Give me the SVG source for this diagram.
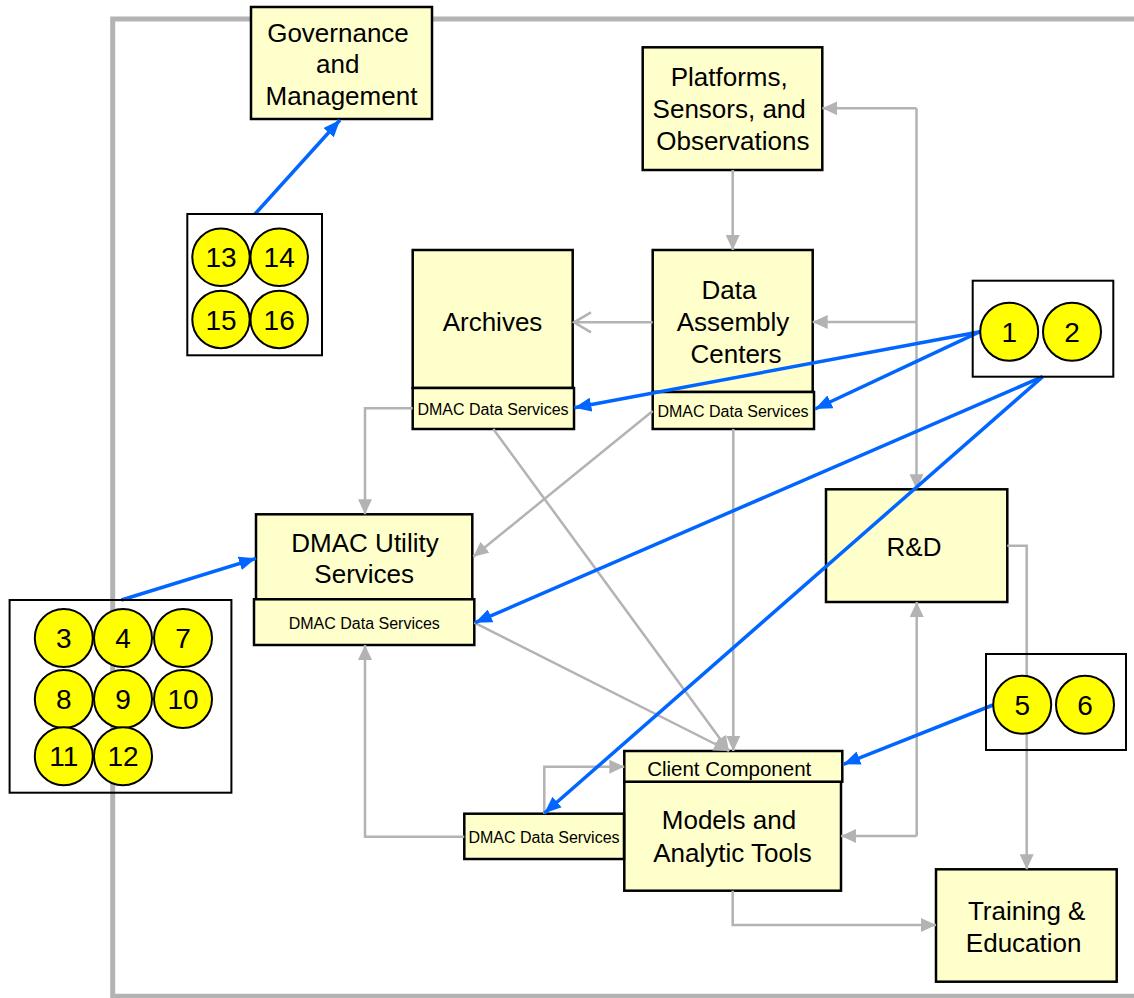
<svg xmlns="http://www.w3.org/2000/svg" width="1134" height="998" viewBox="0 0 1134 998">
  <defs>
    <style>
      .box { fill: #FFFFCC; stroke: #000; stroke-width: 2.5; }
      .grp { fill: none; stroke: #000; stroke-width: 2; }
      .dot { fill: #FFFF00; stroke: #000; stroke-width: 2; }
      .lbl { font-family: "Liberation Sans", Arial, sans-serif; font-size: 26px; fill: #000; text-anchor: middle; }
      .sm { font-family: "Liberation Sans", Arial, sans-serif; font-size: 16px; fill: #000; text-anchor: middle; }
      .cc { font-family: "Liberation Sans", Arial, sans-serif; font-size: 20.5px; fill: #000; text-anchor: middle; }
      .num { font-family: "Liberation Sans", Arial, sans-serif; font-size: 28px; fill: #000; text-anchor: middle; }
      .frame { fill: none; stroke: #B3B3B3; stroke-width: 5; }
      .flow { fill: none; stroke: #B3B3B3; stroke-width: 2.5; marker-end: url(#grayHead); }
      .open { fill: none; stroke: #B3B3B3; stroke-width: 2.5; marker-end: url(#openHead); }
      .link { fill: none; stroke: #0066FF; stroke-width: 3.5; marker-end: url(#blueHead); }
    </style>
    <marker id="grayHead" markerUnits="userSpaceOnUse" viewBox="0 0 15 14" markerWidth="15" markerHeight="14" refX="15" refY="7" orient="auto">
      <path d="M0,0 L15,7 L0,14 z" fill="#B3B3B3"/>
    </marker>
    <marker id="openHead" markerUnits="userSpaceOnUse" viewBox="-19 -12 21 24" markerWidth="21" markerHeight="24" refX="0" refY="0" orient="auto">
      <path d="M-17,-10 L0,0 L-17,10" fill="none" stroke="#B3B3B3" stroke-width="2.5"/>
    </marker>
    <marker id="blueHead" markerUnits="userSpaceOnUse" viewBox="0 0 17 14" markerWidth="17" markerHeight="14" refX="17" refY="7" orient="auto">
      <path d="M0,0 L17,7 L0,14 z" fill="#0066FF"/>
    </marker>
  </defs>

  <!-- enclosing frame -->
  <path class="frame" d="M1134,19 H112.7 V996.3 H1134"/>

  <!-- component boxes -->
  <g id="governance">
    <rect class="box" x="251" y="7" width="181" height="112"/>
    <text class="lbl" x="338" y="41.7">Governance</text>
    <text class="lbl" x="337.7" y="72.7">and</text>
    <text class="lbl" x="341.5" y="105">Management</text>
  </g>
  <g id="platforms">
    <rect class="box" x="642.7" y="47.3" width="179.6" height="122.7"/>
    <text class="lbl" x="729.2" y="86">Platforms,</text>
    <text class="lbl" x="729.2" y="118.3">Sensors, and</text>
    <text class="lbl" x="732.8" y="150">Observations</text>
  </g>
  <g id="archives">
    <rect class="box" x="412.7" y="250" width="160" height="138"/>
    <text class="lbl" x="492.5" y="331">Archives</text>
    <rect class="box" x="412.7" y="388" width="161.3" height="41"/>
    <text class="sm" x="493" y="415">DMAC Data Services</text>
  </g>
  <g id="data-assembly-centers">
    <rect class="box" x="652.7" y="250" width="160" height="142"/>
    <text class="lbl" x="729" y="299.3">Data</text>
    <text class="lbl" x="733" y="331">Assembly</text>
    <text class="lbl" x="736" y="362.7">Centers</text>
    <rect class="box" x="652.7" y="392" width="161.3" height="37"/>
    <text class="sm" x="733" y="416.7">DMAC Data Services</text>
  </g>
  <g id="utility-services">
    <rect class="box" x="256" y="514.3" width="216.3" height="85"/>
    <text class="lbl" x="365" y="552.3">DMAC Utility</text>
    <text class="lbl" x="364.2" y="583.3">Services</text>
    <rect class="box" x="254" y="599.3" width="220.3" height="45.7"/>
    <text class="sm" x="364.3" y="629">DMAC Data Services</text>
  </g>
  <g id="rnd">
    <rect class="box" x="826" y="489.3" width="181.3" height="112.7"/>
    <text class="lbl" x="914" y="556">R&amp;D</text>
  </g>
  <g id="models">
    <rect class="box" x="624.3" y="781.7" width="216.7" height="109"/>
    <text class="lbl" x="729" y="829.3">Models and</text>
    <text class="lbl" x="732.5" y="861.7">Analytic Tools</text>
    <rect class="box" x="624.3" y="751" width="218" height="30.7"/>
    <text class="cc" x="729.2" y="776">Client Component</text>
    <rect class="box" x="464.3" y="813.7" width="159.7" height="45.3"/>
    <text class="sm" x="544" y="842.7">DMAC Data Services</text>
  </g>
  <g id="training">
    <rect class="box" x="936" y="869.3" width="180.7" height="112.4"/>
    <text class="lbl" x="1026.7" y="920">Training &amp;</text>
    <text class="lbl" x="1023.7" y="951.7">Education</text>
  </g>

  <!-- connectors -->
  <g id="connectors">
    <path class="flow" d="M732.7,170 V250"/>
    <path class="flow" d="M916.5,108.3 V489.3"/>
    <path class="flow" d="M916.5,108.3 H822.3"/>
    <path class="flow" d="M916.5,322 H812.7"/>
    <path class="open" d="M652.7,322.3 H574"/>
    <path class="flow" d="M412.7,408.3 H365 V514.3"/>
    <path class="flow" d="M652.7,411 L473.3,556.7"/>
    <path class="flow" d="M493.3,429 L729,751"/>
    <path class="flow" d="M733.3,429 V751"/>
    <path class="flow" d="M474.3,622.7 L729,751"/>
    <path class="flow" d="M464.3,836.7 H365 V645"/>
    <path class="flow" d="M544.3,813.7 V766.7 H624.3"/>
    <path class="flow" d="M916.7,836 V602"/>
    <path class="flow" d="M916.7,836 H841"/>
    <path class="flow" d="M1007.3,545.7 H1026.7 V869.3"/>
    <path class="flow" d="M732.7,890.7 V925 H936"/>

    <path class="link" d="M255,214 L340,120"/>
    <path class="link" d="M121.4,600 L256,558.3"/>
    <path class="link" d="M980,331.7 L574.3,407.7"/>
    <path class="link" d="M980,331.7 L815,409"/>
    <path class="link" d="M1042.7,376.7 L475,622.7"/>
    <path class="link" d="M1042.7,376.7 L544.3,813.3"/>
    <path class="link" d="M993,705 L843.3,764.3"/>
  </g>

  <!-- numbered groupings -->
  <g id="group-13-16">
    <rect class="grp" x="187.3" y="214" width="134.7" height="141.3"/>
    <circle class="dot" cx="221" cy="257.3" r="28.7"/>
    <circle class="dot" cx="279.2" cy="257.3" r="28.7"/>
    <circle class="dot" cx="221" cy="319.5" r="28.7"/>
    <circle class="dot" cx="279.2" cy="319.5" r="28.7"/>
    <text class="num" x="221" y="267.3">13</text>
    <text class="num" x="279.2" y="267.3">14</text>
    <text class="num" x="221" y="329.5">15</text>
    <text class="num" x="279.2" y="329.5">16</text>
  </g>
  <g id="group-1-2">
    <rect class="grp" x="972.7" y="280.7" width="140.6" height="96"/>
    <circle class="dot" cx="1009.2" cy="331.7" r="29"/>
    <circle class="dot" cx="1072" cy="331.7" r="29"/>
    <text class="num" x="1009.2" y="341.7">1</text>
    <text class="num" x="1072" y="341.7">2</text>
  </g>
  <g id="group-3-12">
    <rect class="grp" x="9.6" y="600" width="221.8" height="192.7"/>
    <circle class="dot" cx="63.8" cy="638" r="29"/>
    <circle class="dot" cx="123" cy="638" r="29"/>
    <circle class="dot" cx="183" cy="638" r="29"/>
    <circle class="dot" cx="63.8" cy="699" r="29"/>
    <circle class="dot" cx="123" cy="699" r="29"/>
    <circle class="dot" cx="183" cy="699" r="29"/>
    <circle class="dot" cx="63.8" cy="756.3" r="29"/>
    <circle class="dot" cx="123" cy="756.3" r="29"/>
    <text class="num" x="63.8" y="648">3</text>
    <text class="num" x="123" y="648">4</text>
    <text class="num" x="183" y="648">7</text>
    <text class="num" x="63.8" y="709">8</text>
    <text class="num" x="123" y="709">9</text>
    <text class="num" x="183" y="709">10</text>
    <text class="num" x="63.8" y="766.3">11</text>
    <text class="num" x="123" y="766.3">12</text>
  </g>
  <g id="group-5-6">
    <rect class="grp" x="986" y="654" width="140" height="96"/>
    <circle class="dot" cx="1022.2" cy="704.7" r="29"/>
    <circle class="dot" cx="1085" cy="704.7" r="29"/>
    <text class="num" x="1022.2" y="714.7">5</text>
    <text class="num" x="1085" y="714.7">6</text>
  </g>
</svg>
